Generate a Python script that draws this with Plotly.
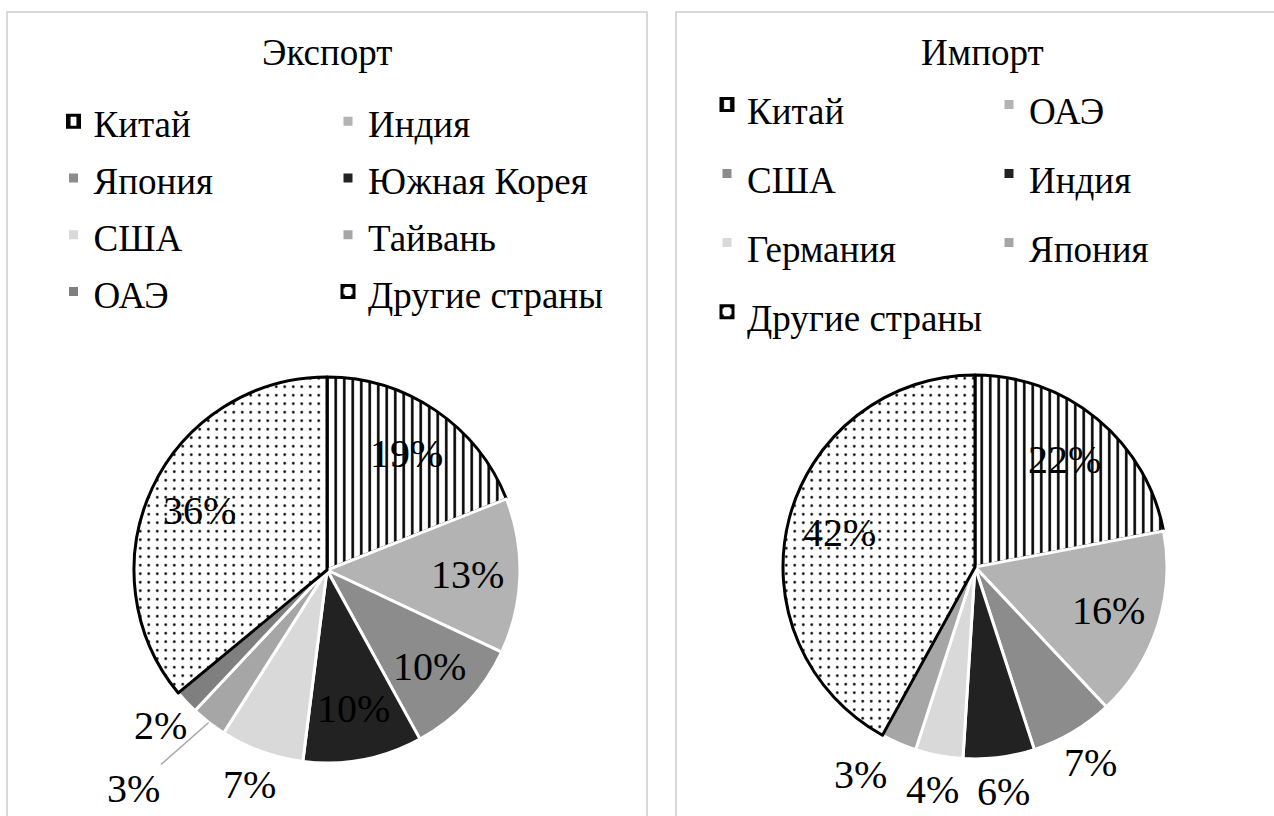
import math

import plotly.graph_objects as go

# Экспорт
export_countries = ['Китай', 'Индия', 'Япония', 'Южная Корея', 'США', 'Тайвань', 'ОАЭ', 'Другие страны']
export_share = [19, 13, 10, 10, 7, 3, 2, 36]
export_colors = ['#ffffff', '#b3b3b3', '#8c8c8c', '#222222', '#d9d9d9', '#a6a6a6', '#7f7f7f', '#ffffff']

# Импорт
import_countries = ['Китай', 'ОАЭ', 'США', 'Индия', 'Германия', 'Япония', 'Другие страны']
import_share = [22, 16, 7, 6, 4, 3, 42]
import_colors = ['#ffffff', '#b3b3b3', '#8c8c8c', '#222222', '#d9d9d9', '#a6a6a6', '#ffffff']

W, H = 1274, 816
L, R = 120, 106          # поля вокруг области построения
FONT = 'Liberation Serif'
LABEL_SIZE = 40


def fx(px):
    return (px - L) / (W - L - R)


def fy(py):
    return 1 - py / H


def pie_domain(cx, cy, r):
    return dict(x=[fx(cx - r), fx(cx + r)], y=[fy(cy + r), fy(cy - r)])


def make_pie(labels, values, colors, domain, legend):
    n = len(labels)
    shapes = ['|'] + [''] * (n - 2) + ['.']
    line_colors = ['black'] + ['white'] * (n - 2) + ['black']
    return go.Pie(
        # размер шрифта легенды задаёт шаг строк, сам текст мельче
        labels=[f"<span style='font-size:37px'>{c}</span>" for c in labels],
        values=values,
        sort=False,
        direction='clockwise',
        rotation=0,
        domain=domain,
        legend=legend,
        legendgroup=legend,
        marker=dict(
            colors=colors,
            line=dict(color=line_colors, width=3),
            pattern=dict(shape=shapes, fgcolor='black', size=8.5,
                         solidity=[0.3] * (n - 1) + [0.075]),
        ),
        textinfo='none',
        hoverinfo='label+percent',
    )


def add_percent_labels(fig, values, cx, cy, r, leaders=None):
    """подписи долей: крупные внутри сектора, мелкие снаружи"""
    leaders = leaders or {}
    total = sum(values)
    font = dict(family=FONT, size=LABEL_SIZE, color='black')
    cum = 0
    prev = None
    for i, v in enumerate(values):
        mid = (cum + v / 2) / total * 2 * math.pi
        cum += v
        text = f'{round(v / total * 100)}%'
        sx, sy = math.sin(mid), -math.cos(mid)
        if i in leaders:
            ax, ay = leaders[i]
            fig.add_annotation(text=text, x=fx(cx + r * sx), y=fy(cy + r * sy),
                               xref='paper', yref='paper', showarrow=True, arrowhead=0,
                               arrowcolor='#a6a6a6', arrowwidth=1.5, ax=ax, ay=ay, standoff=0,
                               font=font)
            continue
        k = 0.73 if v >= 10 else 1.18
        px, py = cx + k * r * sx, cy + k * r * sy
        if k > 1:
            # не даём соседним внешним подписям налезать друг на друга
            half_w = LABEL_SIZE * (0.5 * (len(text) - 1) + 0.833) / 2
            if prev is not None and abs(py - prev[1]) < LABEL_SIZE * 0.7:
                gap = (prev[0] - prev[2]) - (px + half_w) - 18
                if gap < 0:
                    px += gap
            prev = (px, py, half_w)
        fig.add_annotation(text=text, x=fx(px), y=fy(py),
                           xref='paper', yref='paper', showarrow=False,
                           xanchor='center', yanchor='middle', font=font)


fig = go.Figure()
fig.add_trace(make_pie(export_countries, export_share, export_colors, pie_domain(327, 570, 193), 'legend'))
fig.add_trace(make_pie(import_countries, import_share, import_colors, pie_domain(975, 567, 192), 'legend2'))

add_percent_labels(fig, export_share, 327, 570, 193, leaders={5: (-75, 66)})
add_percent_labels(fig, import_share, 975, 567, 192)

# рамки двух диаграмм
box = dict(type='rect', xref='paper', yref='paper', line=dict(color='#d9d9d9', width=2),
           fillcolor='rgba(0,0,0,0)', layer='below')
fig.add_shape(x0=fx(7), x1=fx(647), y0=fy(830), y1=fy(12), **box)
fig.add_shape(x0=fx(676), x1=fx(1320), y0=fy(830), y1=fy(12), **box)

for text, x in [('Экспорт', 327), ('Импорт', 982)]:
    fig.add_annotation(text=text, x=fx(x), y=fy(52), xref='paper', yref='paper',
                       showarrow=False, xanchor='center', yanchor='middle',
                       font=dict(family=FONT, size=37, color='black'))

fig.update_layout(
    width=W, height=H,
    margin=dict(l=L, r=R, t=0, b=0, autoexpand=False),
    paper_bgcolor='white',
    plot_bgcolor='white',
    font=dict(family=FONT, color='black'),
    legend=dict(
        orientation='h', x=fx(53.5), xanchor='left', y=fy(88), yanchor='top',
        entrywidth=229.5, entrywidthmode='pixels', traceorder='normal',
        font=dict(family=FONT, size=41.3, color='black'), bgcolor='rgba(0,0,0,0)',
    ),
    legend2=dict(
        orientation='h', x=fx(1271), xanchor='right', y=fy(65), yanchor='top',
        entrywidth=237, entrywidthmode='pixels', traceorder='normal',
        font=dict(family=FONT, size=50.8, color='black'), bgcolor='rgba(0,0,0,0)',
    ),
)

# убрать стандартный отступ страницы, чтобы рисунок начинался с левого верхнего угла
fig.write_html('out.html', config={'displayModeBar': False},
               post_script="document.body.style.margin = '0';")
